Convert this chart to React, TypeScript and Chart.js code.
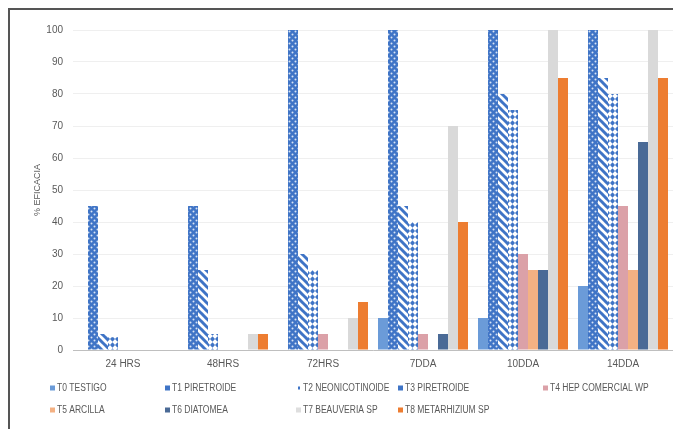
import React, { useEffect, useRef } from "react";
import { Chart, registerables } from "chart.js";

Chart.register(...registerables);

// ---- data ----
const categories = ["24 HRS", "48HRS", "72HRS", "7DDA", "10DDA", "14DDA"];
const seriesNames = [
  "T0 TESTIGO",
  "T1 PIRETROIDE",
  "T2 NEONICOTINOIDE",
  "T3 PIRETROIDE",
  "T4 HEP COMERCIAL WP",
  "T5 ARCILLA",
  "T6 DIATOMEA",
  "T7 BEAUVERIA SP",
  "T8 METARHIZIUM SP",
];
const t0Testigo = [0, 0, 0, 10, 10, 20];
const t1Piretroide = [45, 45, 100, 100, 100, 100];
const t2Neonicotinoide = [5, 25, 30, 45, 80, 85];
const t3Piretroide = [4, 5, 25, 40, 75, 80];
const t4Hep = [0, 0, 5, 5, 30, 45];
const t5Arcilla = [0, 0, 0, 0, 25, 25];
const t6Diatomea = [0, 0, 0, 5, 25, 65];
const t7Beauveria = [0, 5, 10, 70, 100, 100];
const t8Metarhizium = [0, 5, 15, 40, 85, 85];
const yMin = 0;
const yMax = 100;
const yStep = 10;
const yTitle = "% EFICACIA";

// ---- style ----
const BLUE = "#3f74c6";
const textColor = "#595959";
const legendCols = [50, 165, 296, 398, 543];
const legendRows = [388, 410];
const markerColors = [
  "#6b9bd8",
  BLUE,
  BLUE,
  BLUE,
  "#dba1a8",
  "#f4b183",
  "#4a6a96",
  "#dedede",
  "#ed7d31",
];

function makePattern(w: number, h: number, draw: (c: CanvasRenderingContext2D) => void) {
  const cv = document.createElement("canvas");
  cv.width = w;
  cv.height = h;
  const c = cv.getContext("2d")!;
  draw(c);
  return c.createPattern(cv, "repeat")!;
}

export default function App() {
  const ref = useRef<HTMLCanvasElement | null>(null);

  useEffect(() => {
    if (!ref.current) return;

    const dotPattern = makePattern(6, 6, (c) => {
      c.fillStyle = BLUE;
      c.fillRect(0, 0, 6, 6);
      c.fillStyle = "rgba(255,255,255,0.8)";
      c.beginPath();
      c.arc(1.5, 1.5, 1, 0, Math.PI * 2);
      c.arc(4.5, 4.5, 1, 0, Math.PI * 2);
      c.fill();
    });
    const stripePattern = makePattern(8, 8, (c) => {
      c.fillStyle = "#ffffff";
      c.fillRect(0, 0, 8, 8);
      c.strokeStyle = BLUE;
      c.lineWidth = 3;
      for (const k of [-8, 0, 8]) {
        c.beginPath();
        c.moveTo(k - 1, -1);
        c.lineTo(k + 9, 9);
        c.stroke();
      }
    });
    const diamondPattern = makePattern(5, 6, (c) => {
      c.fillStyle = "#ffffff";
      c.fillRect(0, 0, 5, 6);
      c.fillStyle = BLUE;
      c.beginPath();
      c.moveTo(2.5, 0.3);
      c.lineTo(5, 3);
      c.lineTo(2.5, 5.7);
      c.lineTo(0, 3);
      c.closePath();
      c.fill();
    });

    const seriesValues = [
      t0Testigo,
      t1Piretroide,
      t2Neonicotinoide,
      t3Piretroide,
      t4Hep,
      t5Arcilla,
      t6Diatomea,
      t7Beauveria,
      t8Metarhizium,
    ];
    const fills: any[] = [
      "#6b9bd8",
      dotPattern,
      stripePattern,
      diamondPattern,
      "#dba1a8",
      "#f4b183",
      "#4a6a96",
      "#d9d9d9",
      "#ed7d31",
    ];

    const legendPlugin = {
      id: "gridLegend",
      afterDraw(chart: any) {
        const ctx = chart.ctx as CanvasRenderingContext2D;
        ctx.save();
        ctx.textBaseline = "middle";
        ctx.textAlign = "left";
        ctx.font = "10px 'Liberation Sans', Arial, sans-serif";
        chart.data.datasets.forEach((ds: any, i: number) => {
          const x = legendCols[i % 5];
          const y = legendRows[Math.floor(i / 5)];
          ctx.fillStyle = markerColors[i];
          if (i === 2) ctx.fillRect(x + 2, y - 1.5, 2, 3);
          else ctx.fillRect(x, y - 2.5, 5, 5);
          ctx.fillStyle = textColor;
          const w = ctx.measureText(ds.label).width;
          ctx.fillText(ds.label, x + 7, y + 0.5, w * 0.85);
        });
        ctx.restore();
      },
    };

    Chart.defaults.font.family = "'Liberation Sans', Arial, sans-serif";

    const chart = new Chart(ref.current, {
      type: "bar",
      data: {
        labels: categories,
        datasets: seriesValues.map((vals, i) => ({
          label: seriesNames[i],
          data: vals,
          backgroundColor: fills[i],
          borderWidth: 0,
          barPercentage: 1,
          categoryPercentage: 0.9,
        })),
      },
      options: {
        animation: false,
        responsive: true,
        maintainAspectRatio: false,
        layout: { padding: { top: 30, right: 0, bottom: 0, left: 0 } },
        plugins: {
          legend: { display: false },
          tooltip: { enabled: false },
        },
        scales: {
          x: {
            grid: { display: false, drawTicks: false },
            border: { display: true, color: "#bfbfbf", width: 1 },
            ticks: { padding: 8, color: textColor, font: { size: 10 } },
            afterFit(s: any) {
              s.height = 79;
            },
          },
          y: {
            min: yMin,
            max: yMax,
            ticks: { stepSize: yStep, padding: 10, color: textColor, font: { size: 10 } },
            grid: { color: "#efefef", drawTicks: false },
            border: { display: false },
            title: {
              display: true,
              text: yTitle,
              color: textColor,
              font: { size: 9 },
              padding: { top: 32, bottom: 0 },
            },
            afterFit(s: any) {
              s.width = 73;
            },
          },
        },
      },
      plugins: [legendPlugin],
    });

    return () => chart.destroy();
  }, []);

  return (
    <div
      style={{
        position: "absolute",
        left: 0,
        top: 0,
        width: 673,
        height: 429,
        overflow: "hidden",
        background: "#ffffff",
      }}
    >
      <div style={{ position: "absolute", left: 0, top: 0, width: 673, height: 429 }}>
        <canvas ref={ref} />
      </div>
      <div
        style={{
          position: "absolute",
          left: 8,
          top: 8,
          width: 665,
          height: 421,
          borderLeft: "2px solid #555555",
          borderTop: "2px solid #555555",
          pointerEvents: "none",
        }}
      />
    </div>
  );
}
